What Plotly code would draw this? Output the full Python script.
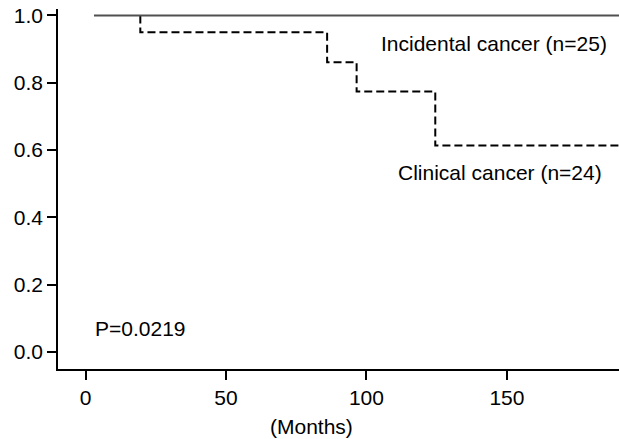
import plotly.graph_objects as go

# Data
incidental_x = [3, 190]
incidental_y = [1.0, 1.0]

clinical_x = [19.5, 19.5, 86, 96.5, 124.5, 190]
clinical_y = [1.0, 0.95, 0.861, 0.774, 0.614, 0.614]

x_ticks = [0, 50, 100, 150]
y_ticks = [0.0, 0.2, 0.4, 0.6, 0.8, 1.0]

label_incidental = "Incidental cancer (n=25)"
label_clinical = "Clinical cancer (n=24)"
p_text = "P=0.0219"
x_title = "(Months)"

FONT = dict(family="Liberation Sans, Arial, sans-serif", size=21, color="black")

fig = go.Figure()
fig.add_trace(go.Scatter(x=clinical_x, y=clinical_y, mode="lines", line_shape="hv",
                         line=dict(color="black", width=2, dash="8px,4px"),
                         showlegend=False, hoverinfo="skip"))
fig.add_trace(go.Scatter(x=incidental_x, y=incidental_y, mode="lines",
                         line=dict(color="#505050", width=2),
                         showlegend=False, hoverinfo="skip"))

fig.update_layout(
    width=619, height=439,
    margin=dict(l=58, r=0, t=9, b=70),
    paper_bgcolor="white", plot_bgcolor="white",
    font=FONT,
    xaxis=dict(range=[-9.8, 189.9], tickvals=x_ticks, ticks="outside", ticklen=9,
               tickwidth=1.5, tickcolor="black", showline=True, linecolor="black",
               linewidth=1.5, showgrid=False, zeroline=False, tickfont=FONT),
    yaxis=dict(range=[-0.0505, 1.0193], tickvals=y_ticks, tickformat=".1f",
               ticks="outside", ticklen=9, tickwidth=1.5, tickcolor="black",
               showline=True, linecolor="black", linewidth=1.5, showgrid=False,
               zeroline=False, tickfont=FONT),
    annotations=[
        dict(x=186.3, y=0.918, xref="x", yref="y", text=label_incidental,
             showarrow=False, xanchor="right", yanchor="middle", font=FONT),
        dict(x=184.5, y=0.532, xref="x", yref="y", text=label_clinical,
             showarrow=False, xanchor="right", yanchor="middle", font=FONT),
        dict(x=2.7, y=0.071, xref="x", yref="y", text=p_text,
             showarrow=False, xanchor="left", yanchor="middle", font=FONT),
        dict(x=0.451, y=-0.16, xref="paper", yref="paper", text=x_title,
             showarrow=False, xanchor="center", yanchor="middle", font=FONT),
    ],
)

fig.write_html("out.html")
